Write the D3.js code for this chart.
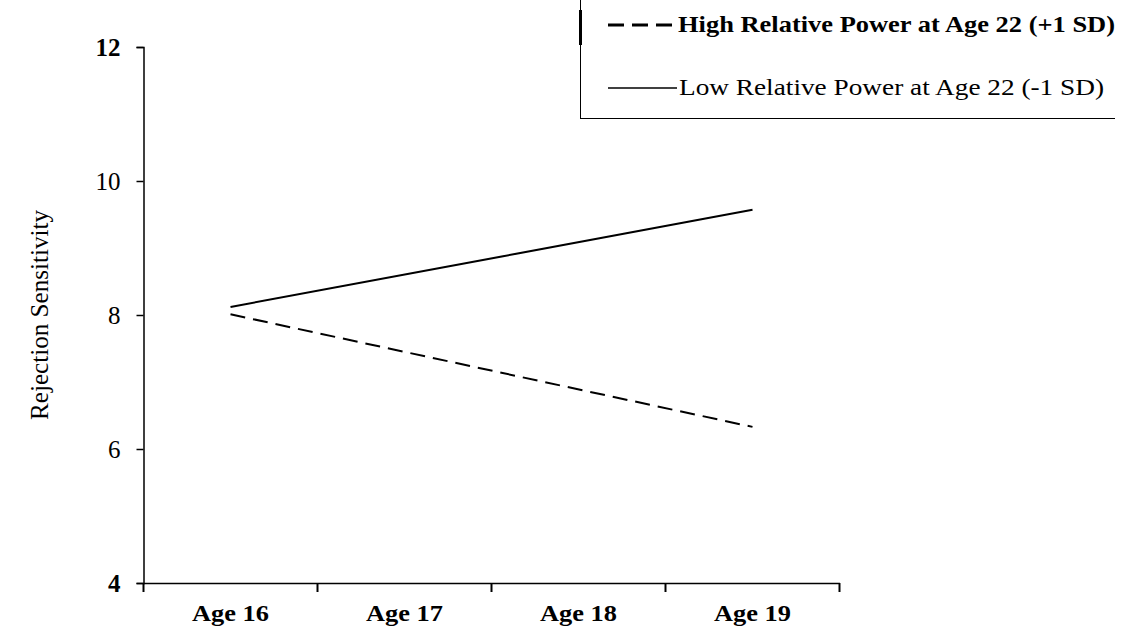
<!DOCTYPE html>
<html>
<head>
<meta charset="utf-8">
<script src="https://cdn.jsdelivr.net/npm/d3@7"></script>
<style>
  body { margin: 0; background: #fff; }
  svg { display: block; }
</style>
</head>
<body>
<div id="chart-area"></div>
<script>
// data
var ages = ["Age 16", "Age 17", "Age 18", "Age 19"];
var yTicks = [4, 6, 8, 10, 12];
var highAges = ["Age 16", "Age 19"];
var highValues = [8.01, 6.33];
var lowAges = ["Age 16", "Age 19"];
var lowValues = [8.12, 9.57];
var seriesNames = ["High Relative Power at Age 22 (+1 SD)", "Low Relative Power at Age 22 (-1 SD)"];

var W = 1129, H = 635;
var font = "'Liberation Serif', 'Times New Roman', serif";

var svg = d3.select("#chart-area")
    .append("svg")
        .attr("width", W)
        .attr("height", H);

// X Scale
var x = d3.scaleBand()
    .domain(ages)
    .range([143.5, 839.5])
    .paddingInner(0)
    .paddingOuter(0);

// Y Scale
var y = d3.scaleLinear()
    .domain([4, 12])
    .range([583, 47]);

function cx(a) { return x(a) + x.bandwidth() / 2; }

// Y Axis
var yAxis = svg.append("g")
    .attr("transform", "translate(143.5,0)")
    .call(d3.axisLeft(y).tickValues(yTicks).tickSize(7).tickPadding(16));
yAxis.select(".domain").attr("stroke", "#000").attr("stroke-width", 1.5);
yAxis.selectAll(".tick line").attr("stroke", "#000").attr("stroke-width", 1.5);
yAxis.selectAll(".tick text")
    .attr("font-family", font)
    .attr("font-size", "25px")
    .attr("fill", "#000")
    .attr("font-weight", function(d) { return (d === 4 || d === 12) ? "bold" : "normal"; });

// X Axis (labels centred in bands, ticks on band edges)
var xAxis = svg.append("g")
    .attr("transform", "translate(0,583)")
    .call(d3.axisBottom(x).tickSize(0).tickPadding(22));
xAxis.select(".domain").attr("stroke", "#000").attr("stroke-width", 1.5);
xAxis.selectAll(".tick text")
    .attr("font-family", font)
    .attr("font-size", "23px")
    .attr("font-weight", "bold")
    .attr("fill", "#000")
    .attr("textLength", 77)
    .attr("lengthAdjust", "spacingAndGlyphs");

var edges = ages.map(function(a) { return x(a); }).concat([x.range()[1]]);
xAxis.selectAll(".edge")
    .data(edges)
    .enter().append("line")
        .attr("class", "edge")
        .attr("x1", function(d) { return d; })
        .attr("x2", function(d) { return d; })
        .attr("y1", 0)
        .attr("y2", 9)
        .attr("stroke", "#000")
        .attr("stroke-width", 2);

// Y Label
svg.append("text")
    .attr("transform", "translate(48," + y(8) + ") rotate(-90)")
    .attr("text-anchor", "middle")
    .attr("font-family", font)
    .attr("font-size", "25px")
    .attr("fill", "#000")
    .attr("textLength", 210)
    .attr("lengthAdjust", "spacingAndGlyphs")
    .text("Rejection Sensitivity");

// lines
var line = d3.line()
    .x(function(d) { return cx(d.age); })
    .y(function(d) { return y(d.value); });

var highData = highAges.map(function(a, i) { return { age: a, value: highValues[i] }; });
var lowData = lowAges.map(function(a, i) { return { age: a, value: lowValues[i] }; });

svg.append("path")
    .datum(lowData)
    .attr("d", line)
    .attr("fill", "none")
    .attr("stroke", "#000")
    .attr("stroke-width", 2);

svg.append("path")
    .datum(highData)
    .attr("d", line)
    .attr("fill", "none")
    .attr("stroke", "#000")
    .attr("stroke-width", 2)
    .attr("stroke-dasharray", "15,8");

// Legend
var legend = svg.append("g");
legend.append("line")
    .attr("x1", 580.5).attr("x2", 580.5)
    .attr("y1", 0).attr("y2", 118)
    .attr("stroke", "#000").attr("stroke-width", 1);
legend.append("line")
    .attr("x1", 580.5).attr("x2", 580.5)
    .attr("y1", 10).attr("y2", 45)
    .attr("stroke", "#000").attr("stroke-width", 3);
legend.append("line")
    .attr("x1", 580).attr("x2", 1115)
    .attr("y1", 118.5).attr("y2", 118.5)
    .attr("stroke", "#000").attr("stroke-width", 1);

legend.append("line")
    .attr("x1", 608).attr("x2", 676)
    .attr("y1", 25).attr("y2", 25)
    .attr("stroke", "#000").attr("stroke-width", 3)
    .attr("stroke-dasharray", "16,8");
legend.append("text")
    .attr("x", 678).attr("y", 32)
    .attr("font-family", font)
    .attr("font-size", "23px")
    .attr("font-weight", "bold")
    .attr("fill", "#000")
    .attr("textLength", 437)
    .attr("lengthAdjust", "spacingAndGlyphs")
    .text(seriesNames[0]);

legend.append("line")
    .attr("x1", 608).attr("x2", 677)
    .attr("y1", 88).attr("y2", 88)
    .attr("stroke", "#000").attr("stroke-width", 1.5);
legend.append("text")
    .attr("x", 679).attr("y", 95)
    .attr("font-family", font)
    .attr("font-size", "23px")
    .attr("fill", "#000")
    .attr("textLength", 425)
    .attr("lengthAdjust", "spacingAndGlyphs")
    .text(seriesNames[1]);
</script>
</body>
</html>
